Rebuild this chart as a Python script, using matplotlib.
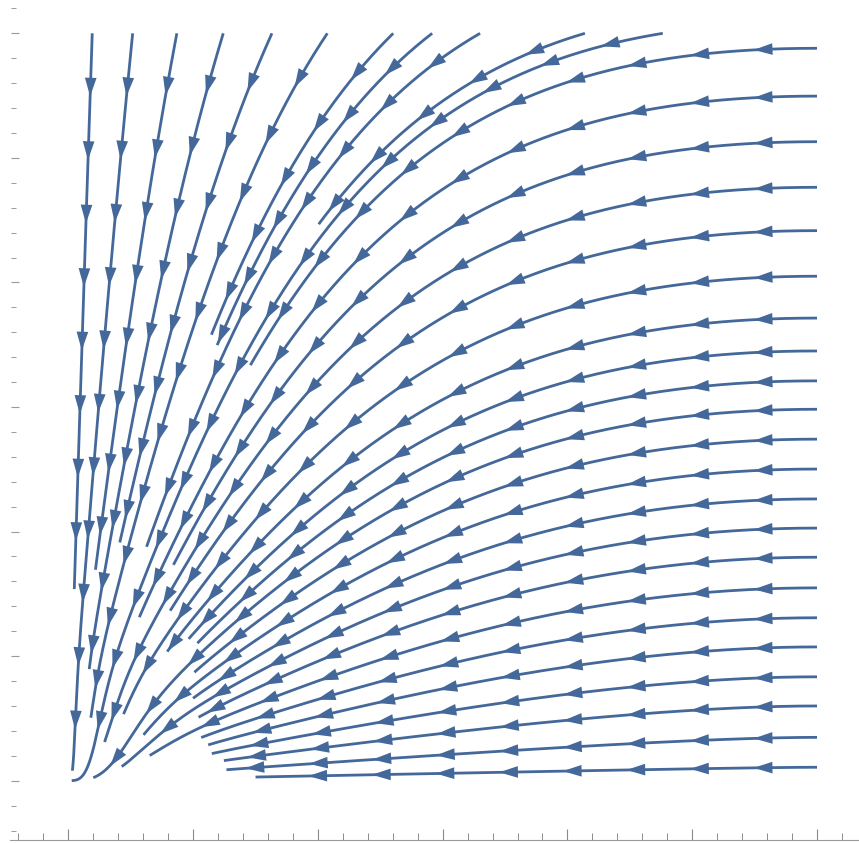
import numpy as np
import matplotlib
matplotlib.use("Agg")
import matplotlib.pyplot as plt

# streamline seeds along the right edge (x = 1) and the top edge (y = 1)
right_x = 1.0
right_y = [0.980, 0.916, 0.855, 0.794, 0.736, 0.675, 0.619, 0.575, 0.535, 0.497,
           0.457, 0.417, 0.377, 0.338, 0.299, 0.258, 0.218, 0.179, 0.139, 0.100,
           0.058, 0.018]
top_y = 1.0
top_x = [0.032, 0.086, 0.145, 0.207, 0.272, 0.346, 0.434, 0.486, 0.550, 0.690, 0.794]

# field:  x' = -x (1 - x + k x y),  y' = -y (1 - x) (1 + c exp(-r^2 / r0^2))
k_couple = 1.75
c_core = 2.5
r_core = 0.12

line_color = "#44689a"


def field(x, y):
    u = -x * ((1.0 - x) + k_couple * x * y)
    v = -y * (1.0 - x) * (1.0 + c_core * np.exp(-(x * x + y * y) / r_core ** 2))
    return u, v


def near_other(grid, x, y, dmin):
    ci, cj = int(np.floor(x / dmin)), int(np.floor(y / dmin))
    for di in (-1, 0, 1):
        for dj in (-1, 0, 1):
            for (px, py) in grid.get((ci + di, cj + dj), ()):
                if (px - x) ** 2 + (py - y) ** 2 < dmin * dmin:
                    return True
    return False


def trace(x0, y0, grid, step=0.002, dmin=0.0125, max_steps=4000):
    pts = [(x0, y0)]
    x, y = x0, y0
    for _ in range(max_steps):
        u, v = field(x, y)
        n = np.hypot(u, v)
        if n < 1e-9:
            break
        xm, ym = x + 0.5 * step * u / n, y + 0.5 * step * v / n
        u2, v2 = field(xm, ym)
        n2 = np.hypot(u2, v2)
        x, y = x + step * u2 / n2, y + step * v2 / n2
        if x < 0 or y < 0 or np.hypot(x, y) < 0.004:
            break
        if near_other(grid, x, y, dmin):
            break
        pts.append((x, y))
    return np.array(pts)


def add_to_grid(grid, pts, dmin=0.0125):
    for x, y in pts:
        key = (int(np.floor(x / dmin)), int(np.floor(y / dmin)))
        grid.setdefault(key, []).append((x, y))


def draw_arrows(ax, pts, first=0.072, gap=0.085, length=0.025, half_w=0.0078):
    seg = np.hypot(np.diff(pts[:, 0]), np.diff(pts[:, 1]))
    s = np.concatenate([[0.0], np.cumsum(seg)])
    for t in np.arange(first, s[-1] - 0.012, gap):
        i = max(1, np.searchsorted(s, t))
        f = (t - s[i - 1]) / max(seg[i - 1], 1e-12)
        p = pts[i - 1] + f * (pts[i] - pts[i - 1])
        d = pts[i] - pts[i - 1]
        d = d / np.hypot(*d)
        nrm = np.array([-d[1], d[0]])
        tip = p + d * length / 2
        base = p - d * length / 2
        tri = np.array([tip, base + nrm * half_w, base - nrm * half_w])
        ax.fill(tri[:, 0], tri[:, 1], color=line_color, lw=0, zorder=3)


seeds = [(right_x, y) for y in right_y] + [(x, top_y) for x in top_x]
# middle seeds first, then outward
order = sorted(range(len(seeds)),
               key=lambda i: abs(np.arctan2(seeds[i][1], seeds[i][0]) - 0.9))

fig = plt.figure(figsize=(8.59, 8.44), dpi=100)
ax = fig.add_axes([0, 0, 1, 1])
ax.set_xlim(-0.0912, 1.0561)
ax.set_ylim(-0.0847, 1.0446)

grid = {}
for i in order:
    pts = trace(seeds[i][0], seeds[i][1], grid)
    if len(pts) < 8:
        continue
    add_to_grid(grid, pts)
    ax.plot(pts[:, 0], pts[:, 1], color=line_color, lw=2.0,
            solid_capstyle="butt", zorder=2)
    draw_arrows(ax, pts)

# axes drawn as frame lines with inward ticks
for side in ("top", "right"):
    ax.spines[side].set_visible(False)
ax.spines["bottom"].set_position(("data", -0.0793))
ax.spines["bottom"].set_bounds(-0.078, 1.06)
ax.spines["bottom"].set_color("#9a9a9a")
ax.spines["left"].set_position(("data", -0.0765))
ax.spines["left"].set_color("none")

ax.set_xticks(np.arange(0, 7) / 6)
ax.set_yticks(np.arange(0, 7) / 6)
ax.set_xticks(np.arange(-2, 32) / 30, minor=True)
ax.set_yticks(np.arange(-2, 32) / 30, minor=True)
ax.set_xticklabels([])
ax.set_yticklabels([])
ax.tick_params(axis="x", which="major", direction="in", length=8, width=0.8, color="#8a8a8a")
ax.tick_params(axis="x", which="minor", direction="in", length=5, width=0.7, color="#8a8a8a")
ax.tick_params(axis="y", which="major", direction="in", length=6, width=0.8, color="#9a9a9a")
ax.tick_params(axis="y", which="minor", direction="in", length=3.5, width=0.7, color="#9a9a9a")

fig.savefig("out.png", dpi=100)
